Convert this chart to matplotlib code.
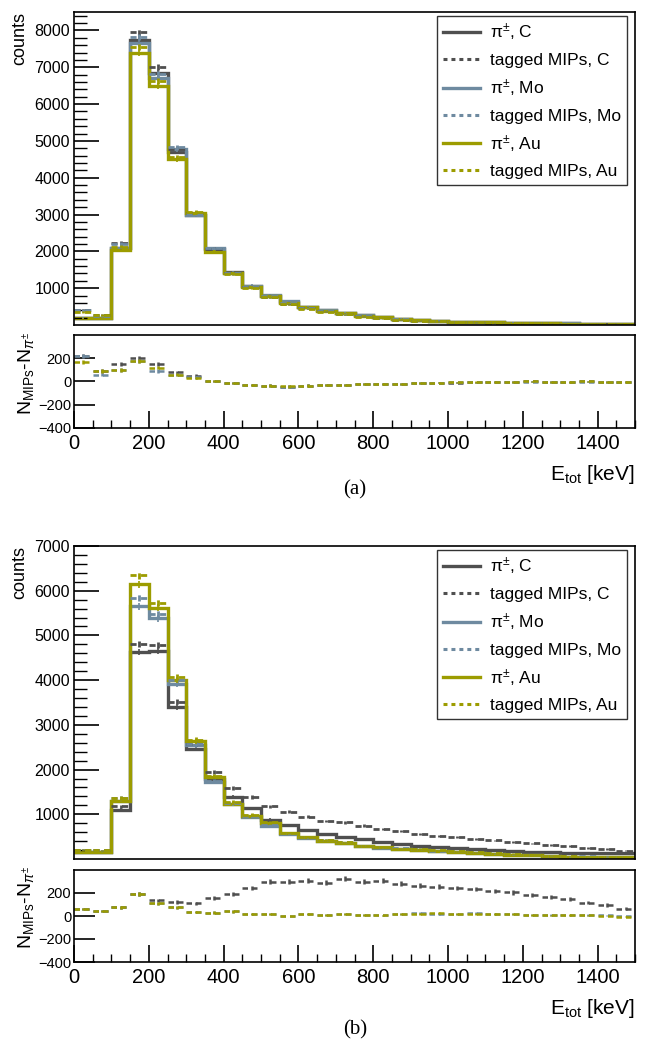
import numpy as np
import matplotlib
matplotlib.use('Agg')
import matplotlib.pyplot as plt
from matplotlib.lines import Line2D

plt.rcParams['font.family'] = ['Liberation Sans', 'DejaVu Sans']
plt.rcParams['mathtext.fontset'] = 'custom'
plt.rcParams['mathtext.rm'] = 'Liberation Sans'
plt.rcParams['mathtext.it'] = 'Liberation Sans:italic'

# bin edges in keV (50 keV bins)
edges = np.arange(0, 1550, 50)
targets = ['C', 'Mo', 'Au']

# panel (a): pion counts and tagged-MIP counts per bin
pi_a_C = [190, 180, 2080, 7750, 6850, 4700, 3000, 2060, 1430, 1060, 800, 620, 490, 400, 320,
          260, 215, 165, 135, 112, 92, 80, 70, 62, 55, 48, 42, 38, 35, 30]
mip_a_C = [410, 270, 2230, 7950, 7000, 4780, 3050, 2065, 1415, 1030, 765, 575, 455, 370, 290,
           235, 195, 145, 120, 102, 82, 72, 65, 57, 55, 43, 37, 38, 32, 25]
pi_a_Mo = [190, 180, 2100, 7650, 6720, 4770, 2980, 2080, 1420, 1070, 810, 640, 500, 400, 325,
           262, 215, 168, 135, 113, 93, 80, 70, 62, 55, 48, 42, 38, 34, 30]
mip_a_Mo = [410, 240, 2200, 7825, 6810, 4830, 3015, 2080, 1405, 1040, 775, 595, 465, 370, 297,
            237, 195, 150, 120, 103, 85, 72, 65, 59, 53, 43, 34, 36, 31, 25]
pi_a_Au = [185, 180, 2030, 7380, 6500, 4500, 3040, 1990, 1410, 1030, 790, 600, 480, 390, 318,
           255, 210, 162, 132, 110, 90, 78, 68, 60, 53, 46, 40, 36, 33, 28]
mip_a_Au = [355, 270, 2130, 7555, 6620, 4560, 3070, 1995, 1395, 1002, 755, 558, 445, 360, 290,
            230, 190, 144, 117, 100, 82, 73, 63, 55, 53, 41, 35, 36, 30, 25]

# panel (b)
pi_b_C = [150, 150, 1100, 4620, 4650, 3400, 2460, 1800, 1390, 1140, 880, 760, 640, 560, 500,
          445, 370, 340, 295, 262, 240, 218, 200, 180, 165, 150, 140, 135, 125, 125]
mip_b_C = [210, 195, 1175, 4815, 4785, 3520, 2570, 1955, 1585, 1385, 1180, 1060, 947, 850, 822,
           745, 675, 620, 560, 517, 485, 453, 415, 385, 350, 315, 290, 250, 220, 190]
pi_b_Mo = [150, 150, 1300, 5650, 5380, 3920, 2540, 1720, 1220, 950, 740, 560, 470, 410, 350,
           290, 255, 215, 195, 170, 148, 125, 110, 95, 80, 68, 55, 50, 45, 42]
mip_b_Mo = [210, 195, 1375, 5845, 5490, 3995, 2576, 1750, 1260, 970, 760, 560, 485, 420, 370,
            300, 260, 235, 220, 190, 168, 150, 125, 110, 90, 78, 60, 60, 50, 42]
pi_b_Au = [150, 150, 1300, 6150, 5620, 4000, 2630, 1830, 1240, 970, 800, 575, 485, 410, 350,
           290, 260, 217, 200, 172, 150, 127, 112, 97, 82, 67, 55, 50, 45, 45]
mip_b_Au = [210, 195, 1375, 6345, 5730, 4075, 2666, 1860, 1280, 990, 820, 575, 500, 420, 370,
            300, 265, 232, 220, 197, 170, 147, 127, 117, 92, 72, 65, 55, 45, 40]

colors = {'C': '#4f4f4f', 'Mo': '#6e8aa0', 'Au': '#9c9c00'}

W, H = 646, 1046
fig = plt.figure(figsize=(W / 100, H / 100), dpi=100)


def frac(x0, y0, x1, y1):
    return [x0 / W, 1 - y1 / H, (x1 - x0) / W, (y1 - y0) / H]


panels = [
    dict(main=frac(74, 12, 635, 325), diff=frac(74, 335, 635, 428), ymax=8500,
         yticks=range(1000, 9000, 1000), tag='(a)', tag_y=490,
         pi={'C': pi_a_C, 'Mo': pi_a_Mo, 'Au': pi_a_Au},
         mip={'C': mip_a_C, 'Mo': mip_a_Mo, 'Au': mip_a_Au}),
    dict(main=frac(74, 546, 635, 859), diff=frac(74, 870, 635, 962), ymax=7000,
         yticks=range(1000, 8000, 1000), tag='(b)', tag_y=1030,
         pi={'C': pi_b_C, 'Mo': pi_b_Mo, 'Au': pi_b_Au},
         mip={'C': mip_b_C, 'Mo': mip_b_Mo, 'Au': mip_b_Au}),
]

centers = 0.5 * (edges[:-1] + edges[1:])
dash = (0, (2.2, 1.6))

for p in panels:
    ax = fig.add_axes(p['main'])
    axd = fig.add_axes(p['diff'])
    for t in targets:
        c = colors[t]
        pi = np.array(p['pi'][t], dtype=float)
        mip = np.array(p['mip'][t], dtype=float)
        ax.stairs(pi, edges, baseline=None, color=c, lw=2.4)
        ax.errorbar(centers, pi, yerr=np.sqrt(pi), fmt='none', ecolor=c, elinewidth=1.2)
        eb = ax.errorbar(centers, mip, xerr=25, yerr=np.sqrt(mip), fmt='none',
                         ecolor=c, elinewidth=2.0)
        for coll in eb[2]:
            coll.set_linestyle(dash)
        d = mip - pi
        ebd = axd.errorbar(centers, d, xerr=25, yerr=np.sqrt(np.abs(d)) + 4, fmt='none',
                           ecolor=c, elinewidth=1.8)
        for coll in ebd[2]:
            coll.set_linestyle(dash)

    ax.set_xlim(0, 1500)
    ax.set_ylim(0, p['ymax'])
    ax.set_yticks(list(p['yticks']))
    ax.set_yticks(np.arange(200, p['ymax'], 200), minor=True)
    ax.tick_params(axis='y', which='major', direction='in', length=18, width=1.2,
                   labelsize=11.5, pad=3)
    ax.tick_params(axis='y', which='minor', direction='in', length=9, width=1.0)
    ax.tick_params(axis='x', which='both', bottom=False, labelbottom=False)
    ax.set_ylabel('counts', loc='top', fontsize=13)
    ax.yaxis.set_label_coords(-0.082, 1.0)

    handles = []
    labels = []
    for t in targets:
        handles.append(Line2D([], [], color=colors[t], lw=2.4))
        labels.append('π$^{\\pm}$, ' + t)
        handles.append(Line2D([], [], color=colors[t], lw=2.2, linestyle=(0, (1.3, 1.3))))
        labels.append('tagged MIPs, ' + t)
    leg = ax.legend(handles, labels, loc='upper right', bbox_to_anchor=(0.986, 0.987),
                    fontsize=12.5, frameon=True, fancybox=False, edgecolor='black',
                    handlelength=2.1, labelspacing=0.55, borderpad=0.35,
                    handletextpad=0.6, borderaxespad=0)
    leg.get_frame().set_linewidth(1.0)

    axd.set_xlim(0, 1500)
    axd.set_ylim(-400, 400)
    axd.set_yticks([-400, -200, 0, 200])
    axd.set_xticks(range(0, 1600, 200))
    axd.set_xticks(range(0, 1550, 50), minor=True)
    axd.tick_params(axis='x', which='major', direction='in', length=12, width=1.2,
                    labelsize=14.5, pad=4)
    axd.tick_params(axis='x', which='minor', direction='in', length=6, width=1.0)
    axd.tick_params(axis='y', which='major', direction='in', length=15, width=1.2,
                    labelsize=10.5, pad=2)
    axd.set_ylabel('N$_{\\mathrm{MIPs}}$-N$_{\\pi^{\\pm}}$', fontsize=14)
    axd.yaxis.set_label_coords(-0.068, 0.59)
    axd.set_xlabel('E$_{\\mathrm{tot}}$ [keV]', loc='right', fontsize=15)
    axd.xaxis.set_label_coords(1.0, -0.38)

    for a in (ax, axd):
        for s in a.spines.values():
            s.set_linewidth(1.2)

    fig.text(355 / W, 1 - p['tag_y'] / H, p['tag'], ha='center', va='center',
             fontsize=15, family=['Liberation Serif', 'DejaVu Serif'])

fig.savefig('out.png', dpi=100)
